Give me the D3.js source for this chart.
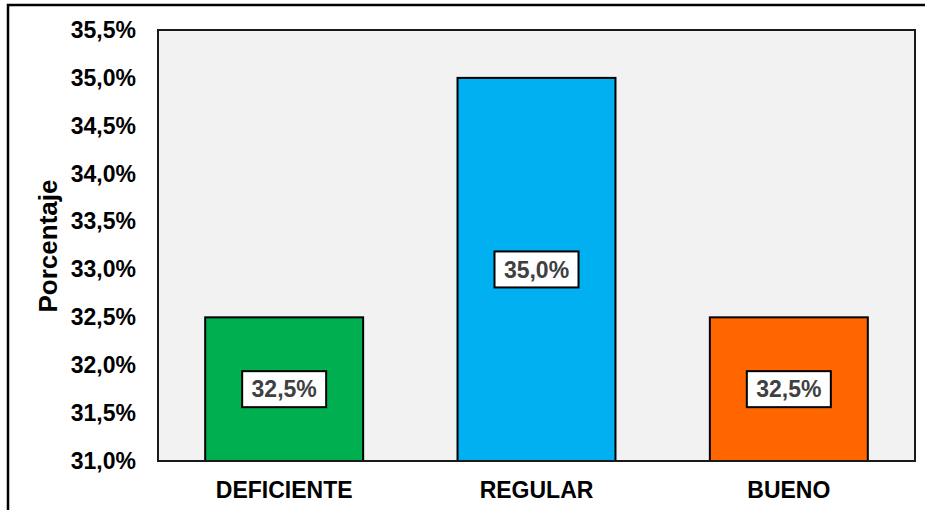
<!DOCTYPE html>
<html><head><meta charset="utf-8">
<script src="https://cdn.jsdelivr.net/npm/d3@7"></script>
<style>body{margin:0;background:#fff}svg{display:block}text{font-family:"Liberation Sans",Arial,sans-serif;font-weight:bold}</style>
</head><body><svg id="c" width="925" height="510"></svg>
<script>
const categories = ["DEFICIENTE", "REGULAR", "BUENO"];
const values = [32.5, 35.0, 32.5];
const colors = ["#00b050", "#00b0f0", "#ff6600"];
const yTicks = [31.0, 31.5, 32.0, 32.5, 33.0, 33.5, 34.0, 34.5, 35.0, 35.5];
const fmt = v => v.toFixed(1).replace(".", ",") + "%";

const svg = d3.select("#c");
const m = {l:158, t:30, r:915, b:461};
svg.append("rect").attr("x",8).attr("y",5).attr("width",1000).attr("height",1000)
  .attr("fill","#fff").attr("stroke","#000").attr("stroke-width",2.5);
svg.append("rect").attr("x",m.l).attr("y",m.t).attr("width",m.r-m.l).attr("height",m.b-m.t)
  .attr("fill","#f2f2f2").attr("stroke","#1a1a1a").attr("stroke-width",2);

const x = d3.scaleBand().domain(categories).range([m.l, m.r]).paddingInner(0.374).paddingOuter(0.187);
const y = d3.scaleLinear().domain([31.0, 35.5]).range([m.b, m.t]);

const yAxis = svg.append("g").attr("transform",`translate(${m.l},0)`)
  .call(d3.axisLeft(y).tickValues(yTicks).tickFormat(fmt).tickSize(0).tickPadding(22));
yAxis.select(".domain").remove();
yAxis.selectAll("text").attr("font-size",23).attr("fill","#000").attr("font-weight","bold")
  .attr("font-family","Liberation Sans, Arial, sans-serif");

const xAxis = svg.append("g").attr("transform",`translate(0,${m.b})`)
  .call(d3.axisBottom(x).tickSize(0).tickPadding(21));
xAxis.select(".domain").remove();
xAxis.selectAll("text").attr("font-size",23).attr("fill","#000").attr("font-weight","bold")
  .attr("font-family","Liberation Sans, Arial, sans-serif");

svg.selectAll("rect.bar").data(values).join("rect").attr("class","bar")
  .attr("x",(d,i)=>x(categories[i])).attr("width",x.bandwidth())
  .attr("y",d=>y(d)).attr("height",d=>y(31.0)-y(d))
  .attr("fill",(d,i)=>colors[i]).attr("stroke","#000").attr("stroke-width",2);

svg.append("line").attr("x1",m.l).attr("x2",m.r).attr("y1",m.b).attr("y2",m.b).attr("stroke","#1a1a1a").attr("stroke-width",2);

const lab = svg.selectAll("g.lab").data(values).join("g").attr("class","lab")
  .attr("transform",(d,i)=>`translate(${x(categories[i])+x.bandwidth()/2},${(y(d)+y(31.0))/2})`);
lab.append("rect").attr("x",-42).attr("y",-18).attr("width",84).attr("height",36)
  .attr("fill","#fff").attr("stroke","#000").attr("stroke-width",2);
lab.append("text").attr("text-anchor","middle").attr("dy","0.36em").attr("font-size",23)
  .attr("fill","#404040").text(d=>fmt(d));

svg.append("text").attr("transform","translate(57,246) rotate(-90)").attr("text-anchor","middle")
  .attr("font-size",26).attr("fill","#000").text("Porcentaje");
</script></body></html>
